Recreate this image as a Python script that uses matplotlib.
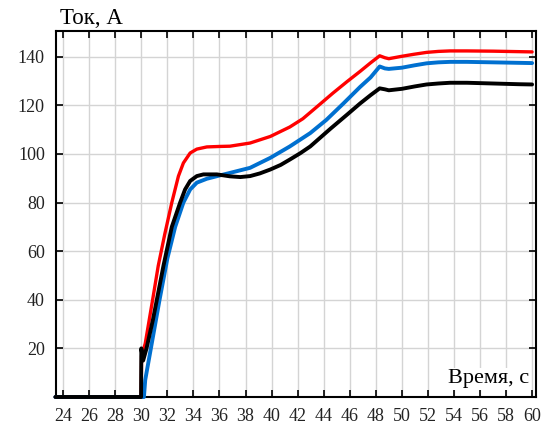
import matplotlib.pyplot as plt

# данные
t_red = [23.4, 29.98, 30.02, 30.3, 30.9, 31.3, 31.8, 32.34, 32.85, 33.23, 33.75, 34.26,
         35.03, 36.05, 36.8, 38.35, 39.9, 41.4, 42.4, 43.5, 44.7, 45.8, 46.8, 47.6, 48.3,
         48.7, 49.0, 49.9, 50.9, 51.9, 52.8, 53.7, 55.0, 57.0, 59.0, 60.0]
i_red = [0, 0, 17, 22, 41, 54, 67, 80, 90.9, 96.3, 100.4, 102,
         102.9, 103.1, 103.2, 104.5, 107.2, 111.1, 114.5, 119.5, 125.0, 129.8, 134, 137.5, 140.4,
         139.6, 139.2, 140.1, 141, 141.8, 142.2, 142.4, 142.4, 142.3, 142.1, 142.0]

t_blue = [23.4, 30.2, 30.3, 30.6, 31.4, 32.0, 32.6, 33.23, 33.75, 34.26, 35.03, 36.05,
          36.8, 38.35, 39.9, 41.4, 42.97, 44.2, 45.5, 46.8, 47.6, 48.3, 48.7, 49.0, 50.0,
          51.0, 51.9, 52.8, 53.7, 55.0, 57.0, 59.0, 60.0]
i_blue = [0, 0, 7, 16, 40, 57, 70, 80, 85.4, 88.2, 89.8, 91.2,
          92.2, 94.3, 98.4, 103.1, 108.6, 114, 120.7, 127.6, 131.5, 136, 135.2, 135, 135.5,
          136.5, 137.3, 137.7, 137.9, 137.9, 137.7, 137.5, 137.4]

t_black = [23.4, 29.98, 30.0, 30.14, 30.4, 30.9, 31.3, 31.7, 32.34, 32.98, 33.36, 33.75,
           34.26, 34.77, 35.8, 36.8, 37.6, 38.35, 39.1, 39.9, 40.7, 41.4, 42.2, 42.97, 44.5,
           45.8, 46.8, 47.6, 48.3, 48.7, 49.0, 50.0, 51.0, 51.9, 52.8, 53.7, 55.0, 57.0, 59.0, 60.0]
i_black = [0, 0, 20, 15, 20, 32, 43, 54, 70, 80, 85.4, 88.9,
           90.9, 91.6, 91.6, 90.8, 90.5, 90.9, 92, 93.6, 95.5, 97.7, 100.3, 103.1, 110.3,
           116.2, 120.8, 124.2, 127, 126.6, 126.2, 126.8, 127.8, 128.6, 129.0, 129.3, 129.3, 129.0, 128.7, 128.6]

xticks = list(range(24, 61, 2))
yticks = [20, 40, 60, 80, 100, 120, 140]

plt.rcParams['font.family'] = ['Liberation Serif', 'DejaVu Serif']

fig = plt.figure(figsize=(5.47, 4.30), dpi=100)
ax = fig.add_axes([56 / 547, 33 / 430, 480 / 547, 366 / 430])

kw = dict(solid_joinstyle='round', solid_capstyle='round', clip_on=False)
ax.plot(t_red, i_red, color='#ff0000', lw=2.4, zorder=3, **kw)
ax.plot(t_blue, i_blue, color='#0070d0', lw=2.8, zorder=4, **kw)
ax.plot(t_black, i_black, color='black', lw=2.8, zorder=5, **kw)

ax.set_xlim(23.45, 60.3)
ax.set_ylim(0, 150.6)
ax.set_xticks(xticks)
ax.set_yticks(yticks)
ax.grid(True, color='#d4d4d4', lw=1.0)
ax.set_axisbelow(True)
ax.tick_params(direction='in', length=5, width=1.2, top=True, right=True,
               labelsize=13, pad=8, labelcolor='#222222')
for s in ax.spines.values():
    s.set_linewidth(1.5)

fig.text(60 / 547, 1 - 24 / 430, 'Ток, А', fontsize=16.5, va='baseline', ha='left')
ax.text(0.985, 0.05, 'Время, с', transform=ax.transAxes, fontsize=16,
        ha='right', va='center', zorder=6,
        bbox=dict(facecolor='white', edgecolor='none', pad=1))

fig.savefig('out.png', dpi=100)
